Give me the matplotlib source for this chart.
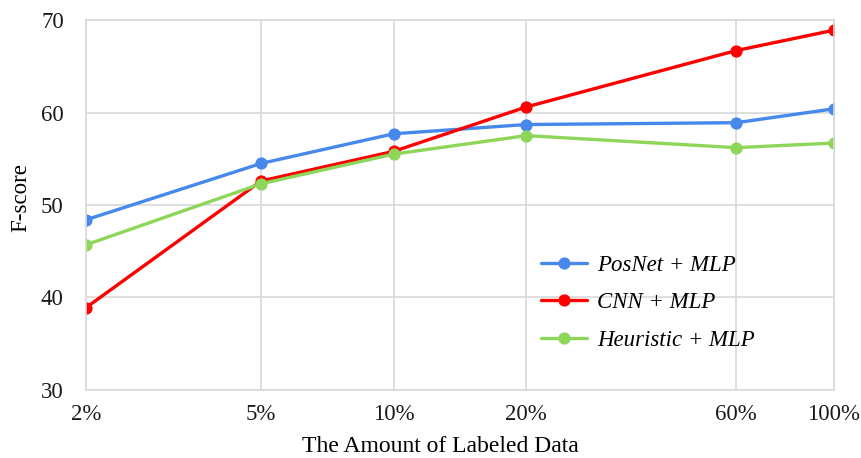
import matplotlib
matplotlib.use("Agg")
import matplotlib.pyplot as plt

x_vals = [2, 5, 10, 20, 60, 100]
x_labels = ["2%", "5%", "10%", "20%", "60%", "100%"]
posnet = [48.4, 54.5, 57.7, 58.7, 58.9, 60.4]
cnn = [38.9, 52.6, 55.8, 60.6, 66.7, 68.9]
heuristic = [45.7, 52.3, 55.5, 57.5, 56.2, 56.7]
series_names = ["PosNet + MLP", "CNN + MLP", "Heuristic + MLP"]
colors = ["#4688EC", "#FF0000", "#8ED65A"]

plt.rcParams['font.family'] = ['Liberation Serif', 'DejaVu Serif']

fig = plt.figure(figsize=(8.61, 4.58), dpi=100)
ax = fig.add_axes([0.0999, 0.1485, 0.8687, 0.8078])

for ys, name, c in zip([posnet, cnn, heuristic], series_names, colors):
    ax.plot(x_vals, ys, color=c, lw=2.4, marker='o', ms=7.8, label=name,
            solid_joinstyle='round', solid_capstyle='round')

ax.set_xscale('log')
ax.set_xlim(2, 100)
ax.set_ylim(30, 70)
ax.set_xticks(x_vals)
ax.set_xticklabels(x_labels)
ax.xaxis.set_minor_locator(matplotlib.ticker.NullLocator())
ax.set_yticks([30, 40, 50, 60, 70])
ax.grid(True, color='#d9d9d9', lw=1.2)
ax.set_axisbelow(True)
for s in ax.spines.values():
    s.set_color('#d9d9d9')
    s.set_linewidth(1.2)
ax.tick_params(length=0, labelsize=16.5, colors='#1a1a1a')
ax.tick_params(axis='x', pad=10)
ax.tick_params(axis='y', pad=16)

ax.set_xlabel("The Amount of Labeled Data", fontsize=17)
ax.xaxis.set_label_coords(0.474, -0.125)
ax.set_ylabel("F-score", fontsize=16.5)
ax.yaxis.set_label_coords(-0.073, 0.52)

leg = ax.legend(loc='upper left', bbox_to_anchor=(0.596, 0.39), frameon=False,
                prop={'style': 'italic', 'size': 16.5}, handlelength=2.0,
                labelspacing=0.72, handletextpad=0.45, borderaxespad=0)

fig.savefig("out.png", dpi=100)
